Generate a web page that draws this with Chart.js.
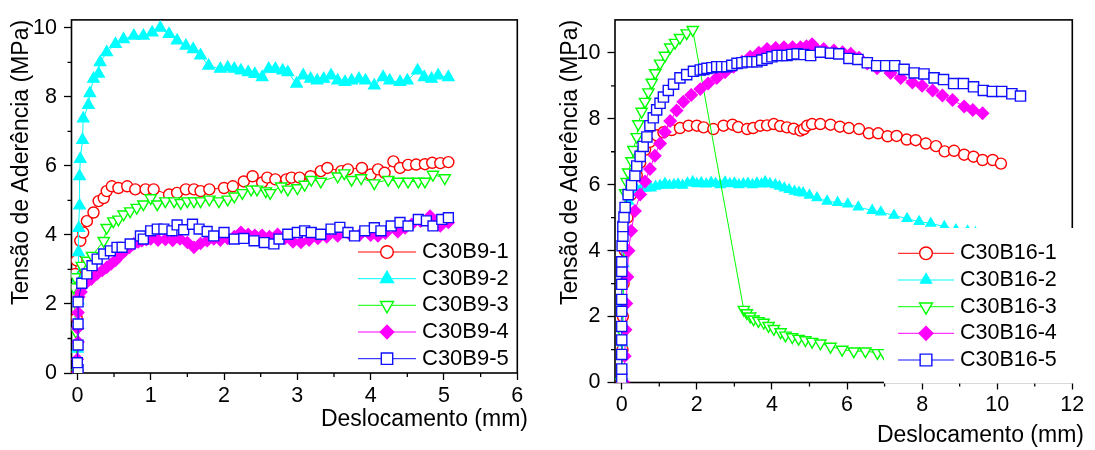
<!DOCTYPE html>
<html>
<head>
<meta charset="utf-8">
<script src="https://cdn.jsdelivr.net/npm/chart.js@4/dist/chart.umd.min.js"></script>
<style>
  body { margin: 0; background: #fff; }
  canvas { position: absolute; top: 0; }
  #left { left: 0; }
  #right { left: 545px; }
</style>
</head>
<body>
<canvas id="left" width="545" height="450"></canvas>
<canvas id="right" width="550" height="450"></canvas>
<script>
// ============================================================
// Bond stress vs slip — C30B9 (left) and C30B16 (right)
// ============================================================

// 1️⃣ Data — left panel (C30B9)
const b9Labels = ["C30B9-1", "C30B9-2", "C30B9-3", "C30B9-4", "C30B9-5"];

const b9_1_x = [0, -0.01, -0.03, -0.01, 0.04, 0.08, 0.13, 0.22, 0.29, 0.36, 0.40, 0.47, 0.56, 0.68, 0.79, 0.93, 1.04, 1.25, 1.36, 1.48, 1.59, 1.68, 1.80, 2.00, 2.12, 2.27, 2.39, 2.52, 2.59, 2.70, 2.85, 2.92, 3.03, 3.18, 3.32, 3.41, 3.60, 3.69, 3.88, 4.00, 4.10, 4.19, 4.31, 4.40, 4.51, 4.62, 4.74, 4.84, 4.95, 5.06];
const b9_1_y = [0, 1.6, 2.87, 3.26, 3.83, 4.07, 4.40, 4.65, 4.98, 5.07, 5.27, 5.41, 5.36, 5.41, 5.32, 5.32, 5.32, 5.17, 5.22, 5.32, 5.32, 5.27, 5.32, 5.36, 5.41, 5.55, 5.70, 5.52, 5.66, 5.61, 5.61, 5.66, 5.66, 5.70, 5.85, 5.94, 5.85, 5.90, 5.94, 5.75, 5.90, 5.80, 6.13, 5.94, 6.03, 6.04, 6.05, 6.09, 6.08, 6.11];

const b9_2_x = [0, 0.00, 0.005, 0.01, 0.01, 0.015, 0.02, 0.03, 0.03, 0.04, 0.07, 0.08, 0.15, 0.17, 0.22, 0.29, 0.31, 0.40, 0.52, 0.63, 0.77, 0.90, 1.02, 1.13, 1.25, 1.36, 1.48, 1.58, 1.68, 1.79, 1.95, 2.05, 2.14, 2.23, 2.33, 2.42, 2.52, 2.61, 2.70, 2.80, 2.87, 2.99, 3.08, 3.18, 3.27, 3.36, 3.46, 3.55, 3.65, 3.74, 3.84, 3.93, 4.05, 4.17, 4.26, 4.40, 4.50, 4.64, 4.73, 4.83, 4.92, 5.06];
const b9_2_y = [0, 0.70, 1.40, 2.10, 2.75, 3.50, 4.20, 4.85, 5.70, 6.20, 6.75, 7.37, 7.76, 8.10, 8.52, 8.67, 9.00, 9.29, 9.53, 9.67, 9.77, 9.77, 9.86, 10.0, 9.82, 9.63, 9.48, 9.38, 9.20, 8.90, 8.81, 8.85, 8.81, 8.76, 8.71, 8.66, 8.57, 8.81, 8.81, 8.76, 8.71, 8.38, 8.62, 8.52, 8.47, 8.52, 8.62, 8.47, 8.43, 8.47, 8.52, 8.47, 8.33, 8.57, 8.47, 8.43, 8.47, 8.76, 8.57, 8.52, 8.62, 8.57];

const b9_3_x = [0, -0.02, -0.05, -0.03, 0.06, 0.13, 0.20, 0.36, 0.40, 0.49, 0.56, 0.63, 0.72, 0.81, 0.90, 1.00, 1.09, 1.20, 1.32, 1.41, 1.50, 1.59, 1.68, 1.80, 1.93, 2.05, 2.14, 2.25, 2.37, 2.45, 2.57, 2.63, 2.78, 2.87, 3.00, 3.10, 3.19, 3.32, 3.55, 3.64, 3.74, 3.87, 4.05, 4.24, 4.38, 4.51, 4.65, 4.74, 4.85, 5.01];
const b9_3_y = [0, 1.20, 2.49, 2.78, 3.11, 3.26, 3.40, 3.83, 4.21, 4.40, 4.45, 4.60, 4.69, 4.79, 4.89, 5.07, 4.89, 4.98, 4.98, 4.93, 4.98, 4.98, 4.98, 5.03, 4.98, 5.03, 5.12, 5.22, 5.32, 5.32, 5.27, 5.22, 5.41, 5.32, 5.36, 5.46, 5.60, 5.55, 5.70, 5.79, 5.60, 5.65, 5.50, 5.60, 5.55, 5.55, 5.55, 5.55, 5.75, 5.65];

const b9_4_x = [0.00, 0.00, 0.01, 0.00, 0.01, 0.02, 0.05, 0.11, 0.19, 0.27, 0.34, 0.40, 0.46, 0.52, 0.58, 0.65, 0.71, 0.77, 0.83, 0.88, 0.94, 1.00, 1.10, 1.20, 1.30, 1.40, 1.50, 1.59, 1.68, 1.77, 1.86, 1.95, 2.05, 2.14, 2.23, 2.33, 2.42, 2.52, 2.62, 2.73, 2.83, 2.94, 3.05, 3.16, 3.28, 3.40, 3.55, 3.70, 3.85, 4.00, 4.10, 4.20, 4.37, 4.47, 4.56, 4.68, 4.81, 4.88, 4.95, 5.06];
const b9_4_y = [0.00, 0.40, 0.90, 1.30, 1.75, 2.20, 2.35, 2.59, 2.72, 2.87, 2.97, 3.06, 3.16, 3.26, 3.40, 3.54, 3.64, 3.74, 3.80, 3.83, 3.86, 3.88, 3.85, 3.87, 3.84, 3.88, 3.78, 3.64, 3.75, 3.83, 3.88, 3.85, 3.90, 3.95, 4.08, 4.02, 3.99, 3.99, 3.95, 4.02, 3.90, 3.80, 3.78, 3.85, 3.90, 3.94, 3.97, 4.05, 4.00, 3.99, 3.97, 4.05, 4.09, 4.20, 4.31, 4.40, 4.55, 4.40, 4.26, 4.36];

const b9_5_x = [0.01, 0.00, 0.01, 0.01, 0.01, 0.06, 0.13, 0.20, 0.27, 0.36, 0.45, 0.54, 0.61, 0.72, 0.86, 0.90, 1.00, 1.09, 1.18, 1.29, 1.36, 1.45, 1.57, 1.66, 1.77, 1.86, 2.00, 2.14, 2.27, 2.41, 2.55, 2.68, 2.75, 2.87, 3.00, 3.10, 3.19, 3.32, 3.46, 3.58, 3.69, 3.78, 3.92, 4.05, 4.14, 4.28, 4.40, 4.51, 4.65, 4.76, 4.85, 4.97, 5.06];
const b9_5_y = [0.10, 0.30, 0.81, 1.42, 2.06, 2.60, 2.87, 3.11, 3.30, 3.45, 3.54, 3.64, 3.64, 3.74, 3.97, 3.88, 4.12, 4.17, 4.17, 4.12, 4.29, 4.15, 4.31, 4.17, 4.10, 3.97, 4.07, 3.88, 3.90, 3.83, 3.78, 3.74, 3.88, 4.02, 4.07, 4.12, 4.07, 4.02, 4.17, 4.22, 4.07, 3.97, 4.12, 4.21, 4.12, 4.26, 4.36, 4.26, 4.45, 4.41, 4.26, 4.45, 4.50];

// 2️⃣ Data — right panel (C30B16)
const b16Labels = ["C30B16-1", "C30B16-2", "C30B16-3", "C30B16-4", "C30B16-5"];

const b16_1_x = [0, 0.02, 0.03, 0.05, 0.08, 0.15, 0.25, 0.40, 0.49, 0.62, 0.75, 0.93, 1.11, 1.33, 1.55, 1.78, 2.00, 2.18, 2.44, 2.71, 2.95, 3.10, 3.34, 3.50, 3.69, 3.87, 4.05, 4.22, 4.40, 4.58, 4.76, 4.85, 4.94, 5.07, 5.29, 5.56, 5.81, 6.05, 6.32, 6.58, 6.83, 7.08, 7.32, 7.59, 7.83, 8.10, 8.37, 8.60, 8.85, 9.12, 9.37, 9.61, 9.88, 10.10];
const b16_1_y = [0, 1.0, 2.0, 3.0, 4.0, 5.0, 5.7, 6.28, 6.67, 7.06, 7.30, 7.50, 7.59, 7.66, 7.72, 7.79, 7.79, 7.74, 7.69, 7.79, 7.82, 7.75, 7.69, 7.72, 7.79, 7.80, 7.84, 7.78, 7.74, 7.70, 7.64, 7.69, 7.79, 7.84, 7.84, 7.82, 7.76, 7.72, 7.69, 7.56, 7.56, 7.47, 7.48, 7.37, 7.35, 7.25, 7.17, 7.01, 7.03, 6.91, 6.85, 6.75, 6.75, 6.64];

const b16_2_x = [0, 0.02, 0.04, 0.06, 0.10, 0.18, 0.30, 0.41, 0.52, 0.64, 0.78, 0.90, 1.02, 1.15, 1.27, 1.39, 1.50, 1.62, 1.75, 1.89, 2.00, 2.12, 2.25, 2.38, 2.50, 2.62, 2.75, 2.88, 3.00, 3.12, 3.24, 3.36, 3.48, 3.60, 3.72, 3.82, 3.95, 4.09, 4.20, 4.33, 4.46, 4.60, 4.72, 4.83, 5.00, 5.20, 5.47, 5.75, 6.02, 6.30, 6.67, 6.90, 7.25, 7.60, 7.92, 8.23, 8.59, 8.90, 9.21, 9.42];
const b16_2_y = [0, 1.2, 2.4, 3.6, 4.6, 5.5, 5.75, 5.85, 5.88, 5.90, 5.90, 5.95, 5.98, 6.04, 5.98, 6.00, 6.02, 5.98, 6.05, 6.09, 6.03, 6.06, 6.02, 6.07, 6.04, 6.00, 6.08, 6.03, 6.05, 6.00, 6.03, 6.04, 6.00, 6.05, 6.02, 6.09, 6.03, 6.00, 5.95, 5.90, 5.85, 5.80, 5.77, 5.75, 5.68, 5.60, 5.50, 5.46, 5.41, 5.32, 5.22, 5.17, 5.07, 4.97, 4.88, 4.83, 4.73, 4.63, 4.59, 4.54];

const b16_3_x = [0, 0.02, 0.04, 0.06, 0.09, 0.13, 0.17, 0.26, 0.31, 0.40, 0.44, 0.53, 0.62, 0.71, 0.80, 0.89, 1.02, 1.15, 1.29, 1.42, 1.55, 1.73, 1.89, 3.25, 3.33, 3.42, 3.51, 3.64, 3.78, 3.91, 4.05, 4.23, 4.36, 4.54, 4.71, 4.89, 5.07, 5.29, 5.56, 5.87, 6.18, 6.49, 6.81, 6.98];
const b16_3_y = [0, 1.5, 3.0, 4.5, 5.75, 6.09, 6.38, 6.72, 7.06, 7.45, 7.84, 8.22, 8.52, 8.81, 9.10, 9.39, 9.68, 9.92, 10.17, 10.31, 10.46, 10.60, 10.70, 2.21, 2.11, 2.01, 1.92, 1.87, 1.82, 1.72, 1.63, 1.53, 1.43, 1.38, 1.33, 1.29, 1.24, 1.19, 1.09, 1.00, 0.95, 0.95, 0.90, 0.90];

const b16_4_x = [0.05, 0.08, 0.10, 0.12, 0.15, 0.18, 0.25, 0.35, 0.49, 0.62, 0.75, 0.88, 1.02, 1.15, 1.29, 1.46, 1.64, 1.85, 2.09, 2.30, 2.53, 2.75, 2.98, 3.20, 3.42, 3.65, 3.87, 4.10, 4.32, 4.55, 4.76, 4.92, 5.07, 5.11, 5.38, 5.65, 5.88, 6.10, 6.32, 6.54, 6.80, 7.16, 7.43, 7.74, 8.00, 8.28, 8.54, 8.81, 9.12, 9.35, 9.61];
const b16_4_y = [0, 0.8, 1.6, 2.4, 3.2, 4.0, 4.6, 5.2, 5.70, 6.10, 6.48, 6.88, 7.25, 7.60, 7.93, 8.25, 8.52, 8.72, 8.90, 9.07, 9.24, 9.41, 9.58, 9.73, 9.88, 10.00, 10.12, 10.15, 10.17, 10.17, 10.17, 10.20, 10.26, 10.20, 10.12, 10.07, 10.02, 9.97, 9.85, 9.68, 9.53, 9.39, 9.24, 9.10, 9.00, 8.86, 8.71, 8.57, 8.37, 8.27, 8.17];

const b16_5_x = [0.00, 0.00, 0.00, 0.00, 0.00, 0.00, 0.00, 0.00, 0.00, 0.00, 0.01, 0.03, 0.03, 0.06, 0.09, 0.17, 0.26, 0.35, 0.40, 0.49, 0.57, 0.67, 0.75, 0.84, 0.93, 1.02, 1.11, 1.24, 1.38, 1.55, 1.73, 1.91, 2.09, 2.18, 2.27, 2.40, 2.53, 2.66, 2.80, 2.93, 3.07, 3.20, 3.34, 3.47, 3.60, 3.73, 3.87, 4.00, 4.14, 4.27, 4.40, 4.53, 4.67, 4.85, 5.03, 5.29, 5.56, 5.78, 6.05, 6.29, 6.54, 6.79, 7.03, 7.27, 7.52, 7.79, 8.05, 8.32, 8.57, 8.84, 9.10, 9.37, 9.63, 9.87, 10.12, 10.39, 10.62];
const b16_5_y = [0.10, 0.41, 0.85, 1.29, 1.70, 2.16, 2.52, 2.98, 3.37, 3.66, 4.15, 4.44, 4.73, 5.02, 5.31, 5.70, 5.99, 6.28, 6.57, 6.86, 7.16, 7.45, 7.79, 8.03, 8.27, 8.47, 8.66, 8.86, 9.05, 9.24, 9.34, 9.44, 9.48, 9.50, 9.53, 9.55, 9.58, 9.58, 9.58, 9.62, 9.68, 9.70, 9.73, 9.73, 9.73, 9.78, 9.83, 9.88, 9.92, 9.92, 9.92, 9.95, 9.97, 9.95, 9.92, 10.02, 9.99, 9.97, 9.83, 9.80, 9.70, 9.61, 9.61, 9.61, 9.50, 9.39, 9.36, 9.24, 9.19, 9.07, 9.07, 8.97, 8.86, 8.83, 8.83, 8.76, 8.69];

// 3️⃣ Ticks and axis titles
const xTicksB9 = [0, 1, 2, 3, 4, 5, 6];
const xMinorB9 = [0.5, 1.5, 2.5, 3.5, 4.5, 5.5];
const xTicksB16 = [0, 2, 4, 6, 8, 10, 12];
const xMinorB16 = [1, 3, 5, 7, 9, 11];
const yTicks = [0, 2, 4, 6, 8, 10];
const yMinor = [1, 3, 5, 7, 9];
const xTitle = "Deslocamento (mm)";
const yTitle = "Tensão de Aderência (MPa)";

// 4️⃣ Look
const FONT = "'Liberation Sans', Arial, sans-serif";
Chart.defaults.font.family = FONT;
Chart.defaults.color = "#000";

const markers = [
  { color: "#ff0000", pointStyle: "circle", rotation: 0, filled: false },
  { color: "#00ffff", pointStyle: "triangle", rotation: 0, filled: true },
  { color: "#00ff00", pointStyle: "triangle", rotation: 180, filled: false },
  { color: "#ff00ff", pointStyle: "rectRot", rotation: 0, filled: true },
  { color: "#1010ff", pointStyle: "rect", rotation: 0, filled: false }
];

function makeDatasets(labels, xs, ys, radii) {
  return labels.map((label, i) => {
    const m = markers[i];
    return {
      label,
      data: xs[i].map((x, k) => ({ x, y: ys[i][k] })),
      showLine: true,
      borderColor: m.color,
      borderWidth: 1,
      pointStyle: m.pointStyle,
      pointRotation: m.rotation,
      pointRadius: radii[i],
      pointBorderWidth: 1.4,
      pointBorderColor: m.color,
      pointBackgroundColor: m.filled ? m.color : "#fff",
      order: -i
    };
  });
}

// 5️⃣ Frame, minor ticks, x title, legend box
const panelDeco = {
  id: "panelDeco",
  beforeDatasetsDraw(chart, args, o) {
    const { ctx, chartArea: a, scales: { x, y } } = chart;
    ctx.save();
    ctx.strokeStyle = "#000";
    ctx.lineWidth = 1.6;
    ctx.strokeRect(a.left, a.top, a.right - a.left, a.bottom - a.top);

    ctx.lineWidth = 1.3;
    ctx.beginPath();
    o.xMinor.forEach(v => {
      const px = x.getPixelForValue(v);
      ctx.moveTo(px, a.bottom);
      ctx.lineTo(px, a.bottom + 4);
    });
    o.yMinor.forEach(v => {
      const py = y.getPixelForValue(v);
      ctx.moveTo(a.left - 4, py);
      ctx.lineTo(a.left, py);
    });
    ctx.stroke();

    ctx.fillStyle = "#000";
    ctx.font = `23px ${FONT}`;
    ctx.textAlign = "right";
    ctx.textBaseline = "alphabetic";
    ctx.fillText(xTitle, o.xTitleRight, o.xTitleBase);
    ctx.restore();
  },
  afterDatasetsDraw(chart, args, o) {
    const { ctx, chartArea: a } = chart;
    ctx.save();
    if (o.box) {
      ctx.fillStyle = "#fff";
      ctx.fillRect(o.box.left, o.box.top, chart.width - o.box.left, a.bottom + 1 - o.box.top);
    }
    const mx = (o.lineX[0] + o.lineX[1]) / 2;
    chart.data.datasets.forEach((ds, i) => {
      const yy = o.rows[i];
      ctx.strokeStyle = ds.borderColor;
      ctx.lineWidth = 1;
      ctx.beginPath();
      ctx.moveTo(o.lineX[0], yy);
      ctx.lineTo(o.lineX[1], yy);
      ctx.stroke();

      ctx.fillStyle = ds.pointBackgroundColor;
      ctx.strokeStyle = ds.pointBorderColor;
      ctx.lineWidth = 1.4;
      Chart.helpers.drawPoint(ctx, {
        pointStyle: ds.pointStyle,
        rotation: ds.pointRotation,
        radius: ds.pointRadius * 1.15,
        borderWidth: 1.4
      }, mx, yy);

      ctx.fillStyle = "#000";
      ctx.font = `${o.fontSize}px ${FONT}`;
      ctx.textAlign = "left";
      ctx.textBaseline = "middle";
      ctx.fillText(ds.label, o.textX, yy);
    });
    ctx.restore();
  }
};

// 6️⃣ Panel builder
function buildPanel(canvasId, p) {
  const tickFont = { family: FONT, size: 21.5 };
  return new Chart(document.getElementById(canvasId), {
    type: "scatter",
    data: { datasets: p.datasets },
    plugins: [panelDeco],
    options: {
      responsive: false,
      animation: false,
      devicePixelRatio: 1,
      layout: { padding: { top: p.padTop, right: p.padRight, left: 0, bottom: 0 } },
      plugins: {
        legend: { display: false },
        tooltip: { enabled: false },
        panelDeco: p.deco
      },
      scales: {
        x: {
          type: "linear",
          min: p.xMin,
          max: p.xMax,
          afterBuildTicks: s => { s.ticks = p.xTicks.map(v => ({ value: v })); },
          afterFit: s => { s.height = p.xAxisH; },
          grid: { display: true, drawOnChartArea: false, tickLength: 7, tickWidth: 1.3, tickColor: "#000" },
          border: { display: false },
          ticks: { font: tickFont, color: "#000", padding: 3, maxRotation: 0, autoSkip: false },
          title: { display: false }
        },
        y: {
          type: "linear",
          min: 0,
          max: p.yMax,
          afterBuildTicks: s => { s.ticks = yTicks.map(v => ({ value: v })); },
          afterFit: s => { s.width = p.yAxisW; },
          grid: { display: true, drawOnChartArea: false, tickLength: 7.5, tickWidth: 1.3, tickColor: "#000" },
          border: { display: false },
          ticks: { font: tickFont, color: "#000", padding: 7, autoSkip: false },
          title: {
            display: true,
            text: yTitle,
            align: "end",
            color: "#000",
            font: { family: FONT, size: 23 },
            padding: { top: p.yTitlePad, bottom: 0 }
          }
        }
      }
    }
  });
}

// 7️⃣ Left panel
buildPanel("left", {
  datasets: makeDatasets(
    b9Labels,
    [b9_1_x, b9_2_x, b9_3_x, b9_4_x, b9_5_x],
    [b9_1_y, b9_2_y, b9_3_y, b9_4_y, b9_5_y],
    [5.5, 6.5, 6.5, 5.8, 7]
  ),
  xMin: -0.08, xMax: 6, xTicks: xTicksB9, yMax: 10.23,
  padTop: 16, padRight: 27.7, xAxisH: 77, yAxisW: 71.5, yTitlePad: 8,
  deco: {
    xMinor: xMinorB9, yMinor: yMinor,
    xTitleRight: 528, xTitleBase: 425.5,
    box: null,
    lineX: [358, 416], textX: 422, fontSize: 22,
    rows: [252, 278.7, 305.3, 332, 358.7]
  }
});

// 8️⃣ Right panel
buildPanel("right", {
  datasets: makeDatasets(
    b16Labels,
    [b16_1_x, b16_2_x, b16_3_x, b16_4_x, b16_5_x],
    [b16_1_y, b16_2_y, b16_3_y, b16_4_y, b16_5_y],
    [5.5, 5.5, 6.5, 6, 7.2]
  ),
  xMin: -0.18, xMax: 12, xTicks: xTicksB16, yMax: 11,
  padTop: 5.7, padRight: 22.7, xAxisH: 67.5, yAxisW: 70, yTitlePad: 12,
  deco: {
    xMinor: xMinorB16, yMinor: yMinor,
    xTitleRight: 539, xTitleBase: 442,
    box: { left: 339, top: 228 },
    lineX: [353, 409], textX: 415, fontSize: 21.5,
    rows: [253.3, 280, 306.7, 333.3, 360]
  }
});
</script>
</body>
</html>
